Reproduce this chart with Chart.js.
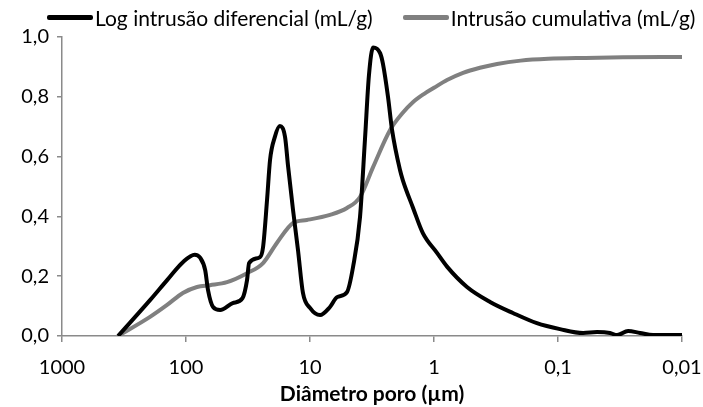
<!DOCTYPE html>
<html>
<head>
<meta charset="utf-8">
<script src="https://cdn.jsdelivr.net/npm/chart.js@4/dist/chart.umd.min.js"></script>
<style>
  html, body { margin: 0; padding: 0; background: #fff; }
  #wrap { position: relative; width: 703px; height: 407px; }
  #legenda {
    position: absolute; top: 5px; left: 47px;
    display: flex; align-items: center;
    font-family: Lato, "DejaVu Sans", sans-serif; font-size: 21px; color: #000;
    white-space: nowrap;
  }
  .item { display: flex; align-items: center; margin-right: 30px; }
  .amostra { display: inline-block; width: 46px; height: 5px; border-radius: 2px; margin-right: 2px; }
</style>
</head>
<body>
<div id="wrap">
  <div id="legenda"></div>
  <canvas id="chart"></canvas>
</div>
<script>
/* global Chart */

// diâmetro de poro (µm) e valores
const diamDif = [353, 195, 142, 106, 85, 77, 70, 66.5, 60.5, 53, 42, 35, 32.2, 31, 25.3, 23.9, 22.2, 21, 19.2, 17.5, 15.9, 15, 13.7, 12.5, 11.4, 10, 8.3, 6.9, 6.05, 5.03, 4.5, 3.95, 3.6, 3.35, 3.1, 2.72, 2.58, 2.35, 2.18, 1.88, 1.78, 1.48, 1.23, 0.946, 0.785, 0.542, 0.353, 0.231, 0.148, 0.0964, 0.0628, 0.0484, 0.0381, 0.0334, 0.0272, 0.0218, 0.0171, 0.01]
const logIntrusao = [0, 0.12, 0.187, 0.247, 0.272, 0.262, 0.22, 0.154, 0.097, 0.087, 0.11, 0.127, 0.187, 0.244, 0.264, 0.298, 0.455, 0.589, 0.666, 0.702, 0.666, 0.565, 0.421, 0.288, 0.144, 0.094, 0.07, 0.097, 0.13, 0.147, 0.23, 0.398, 0.66, 0.87, 0.965, 0.946, 0.91, 0.8, 0.69, 0.555, 0.52, 0.43, 0.344, 0.278, 0.232, 0.164, 0.114, 0.077, 0.043, 0.023, 0.01, 0.013, 0.01, 0.003, 0.017, 0.01, 0.003, 0.003]

const diamCum = [353, 195, 142, 106, 81.5, 64, 46.7, 32.2, 23.9, 18.5, 13.7, 10.6, 6.9, 5.03, 3.95, 3.1, 2.26, 1.8, 1.48, 1.2, 1.0, 0.785, 0.583, 0.426, 0.31, 0.2, 0.12, 0.06, 0.03, 0.01]
const intrusaoCum = [0, 0.064, 0.104, 0.144, 0.164, 0.17, 0.18, 0.21, 0.244, 0.311, 0.378, 0.388, 0.405, 0.428, 0.465, 0.565, 0.689, 0.745, 0.782, 0.81, 0.83, 0.856, 0.88, 0.897, 0.91, 0.921, 0.927, 0.93, 0.932, 0.933]

const xTicks = [1000, 100, 10, 1, 0.1, 0.01]
const yMax = 1

const fonte = 'Lato, "DejaVu Sans", sans-serif'
const eixoCor = '#8a8a8a'

function toPoints (xs, ys) {
  return xs.map((x, i) => ({ x, y: ys[i] }))
}

function formatDecimal (value, digits) {
  return Number(value).toFixed(digits).replace('.', ',')
}

function renderLegenda (chartRef) {
  const box = document.getElementById('legenda')
  box.innerHTML = chartRef.data.datasets.map((ds) => `
    <span class="item">
      <span class="amostra" style="background:${ds.borderColor}"></span>
      <span>${ds.label}</span>
    </span>
  `).join('')
}

const ctx = document.getElementById('chart').getContext('2d')
const chart = new Chart(ctx, {
  type: 'line',
  data: {
    datasets: [
      {
        label: 'Log intrusão diferencial (mL/g)',
        data: toPoints(diamDif, logIntrusao),
        borderColor: '#000000',
        borderWidth: 4,
        pointRadius: 0,
        cubicInterpolationMode: 'monotone'
      },
      {
        label: 'Intrusão cumulativa (mL/g)',
        data: toPoints(diamCum, intrusaoCum),
        borderColor: '#808080',
        borderWidth: 4,
        pointRadius: 0,
        cubicInterpolationMode: 'monotone'
      }
    ]
  },
  options: {
    responsive: true,
    maintainAspectRatio: false,
    animation: false,
    layout: {
      padding: { left: 0, right: 21, top: 37, bottom: 0 }
    },
    plugins: {
      legend: { display: false },
      tooltip: { enabled: false }
    },
    scales: {
      x: {
        type: 'logarithmic',
        reverse: true,
        min: 0.01,
        max: 1000,
        afterBuildTicks: (scale) => {
          scale.ticks = xTicks.map((v) => ({ value: v }))
        },
        afterFit: (scale) => {
          scale.height = 71
          scale.paddingLeft = 0
          scale.paddingRight = 0
        },
        ticks: {
          color: '#000',
          font: { family: fonte, size: 20 },
          maxRotation: 0,
          autoSkip: false,
          padding: 14,
          callback: (value) => String(value).replace('.', ',')
        },
        grid: {
          drawOnChartArea: false,
          drawTicks: true,
          tickLength: 6,
          color: eixoCor,
          lineWidth: 1.5
        },
        border: { color: eixoCor, width: 1.5 },
        title: {
          display: true,
          text: 'Diâmetro poro (µm)',
          color: '#000',
          font: { family: fonte, size: 21, weight: 'bold' },
          padding: { top: 2, bottom: 0 }
        }
      },
      y: {
        min: 0,
        max: yMax,
        afterFit: (scale) => {
          scale.width = 62
        },
        ticks: {
          stepSize: 0.2,
          color: '#000',
          font: { family: fonte, size: 20 },
          padding: 8,
          callback: (value) => formatDecimal(value, 1)
        },
        grid: {
          drawOnChartArea: false,
          drawTicks: true,
          tickLength: 5,
          color: eixoCor,
          lineWidth: 1.5
        },
        border: { color: eixoCor, width: 1.5 }
      }
    }
  }
})

renderLegenda(chart)
</script>
</body>
</html>
